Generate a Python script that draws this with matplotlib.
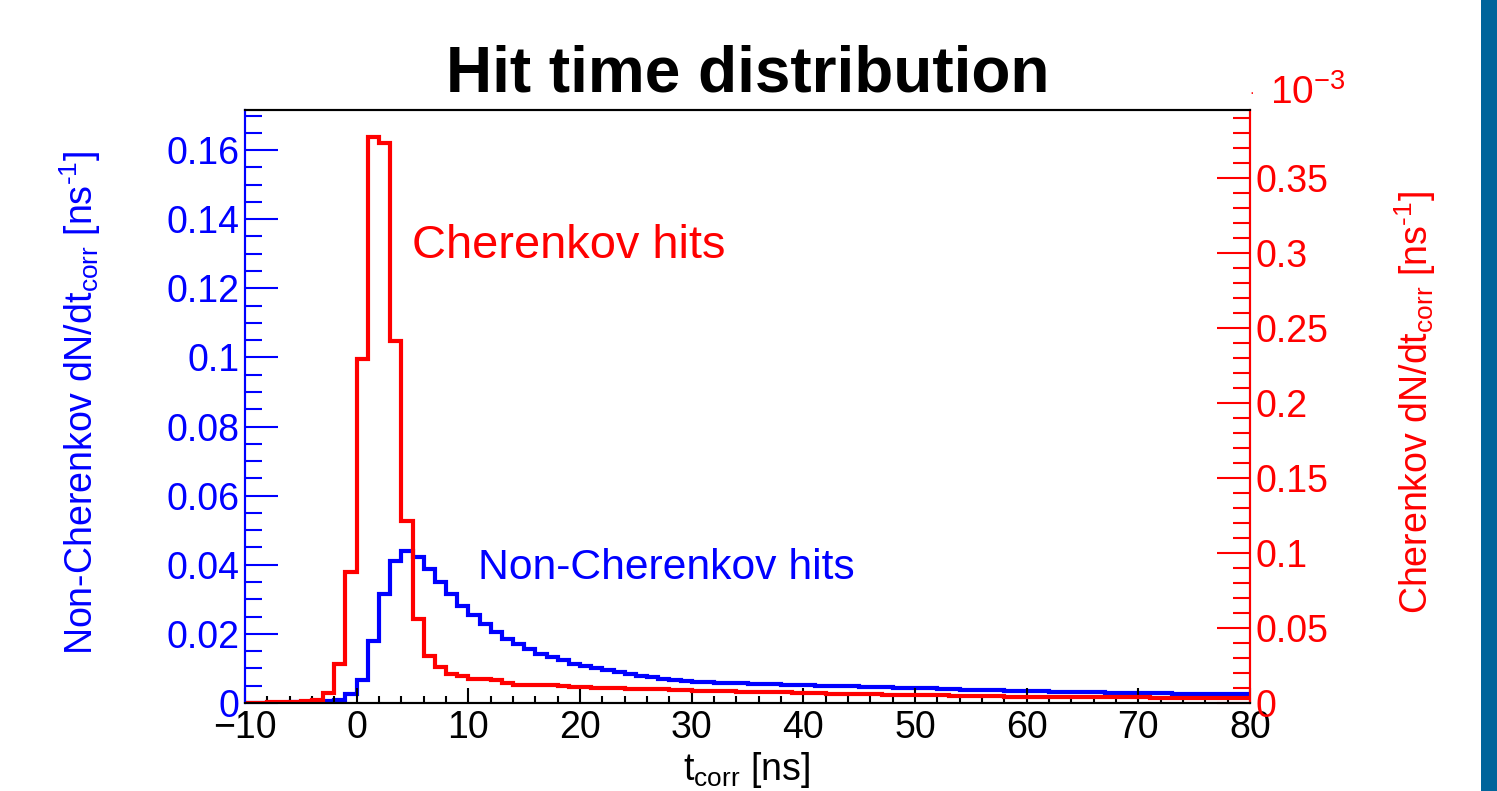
import numpy as np
import matplotlib
matplotlib.use('Agg')
import matplotlib.pyplot as plt
from matplotlib.patches import Rectangle
from matplotlib.ticker import MultipleLocator

plt.rcParams['font.family'] = ['Liberation Sans', 'DejaVu Sans']
plt.rcParams['mathtext.fontset'] = 'custom'
plt.rcParams['mathtext.rm'] = 'Liberation Sans'
plt.rcParams['mathtext.it'] = 'Liberation Sans:italic'
plt.rcParams['mathtext.bf'] = 'Liberation Sans:bold'

# 1 ns bins from -10 to 80
edges = np.arange(-10, 81, 1)

# non-Cherenkov hits, dN/dt [ns^-1] (left axis)
non_cherenkov = [
    0.0001, 0.0001, 0.0001, 0.0001, 0.0002, 0.0002, 0.0003, 0.0005, 0.0010, 0.0025,
    0.0067, 0.0179, 0.0315, 0.0411, 0.0440, 0.0423, 0.0389, 0.0351, 0.0315, 0.0282,
    0.0255, 0.0229, 0.0206, 0.0186, 0.0170, 0.0155, 0.0143, 0.0133, 0.0124, 0.0114,
    0.0107, 0.0100, 0.0095, 0.0089, 0.0083, 0.0078, 0.0074, 0.0070, 0.0067, 0.0064,
    0.0062, 0.0061, 0.0059, 0.0058, 0.0057, 0.0056, 0.0055, 0.0054, 0.0053, 0.0052,
    0.0051, 0.0050, 0.0049, 0.0048, 0.0048, 0.0047, 0.0046, 0.0045, 0.0044, 0.0044,
    0.0043, 0.0042, 0.0041, 0.0040, 0.0039, 0.0038, 0.0037, 0.0037, 0.0036, 0.0035,
    0.0034, 0.0034, 0.0033, 0.0032, 0.0032, 0.0031, 0.0031, 0.0030, 0.0030, 0.0029,
    0.0029, 0.0028, 0.0028, 0.0027, 0.0027, 0.0027, 0.0026, 0.0026, 0.0026, 0.0025,
]

# Cherenkov hits, dN/dt in units of 1e-3 ns^-1 (right axis)
cherenkov_e3 = [
    0.0003, 0.0003, 0.0004, 0.0005, 0.0006, 0.0010, 0.0020, 0.0069, 0.0258, 0.0875,
    0.2290, 0.3775, 0.3730, 0.2415, 0.1210, 0.0560, 0.0315, 0.0242, 0.0193, 0.0180,
    0.0160, 0.0158, 0.0153, 0.0131, 0.0118, 0.0118, 0.0122, 0.0118, 0.0113, 0.0109,
    0.0105, 0.0103, 0.0100, 0.0098, 0.0096, 0.0093, 0.0091, 0.0092, 0.0087, 0.0084,
    0.0082, 0.0080, 0.0081, 0.0077, 0.0076, 0.0074, 0.0073, 0.0071, 0.0070, 0.0067,
    0.0066, 0.0065, 0.0063, 0.0062, 0.0061, 0.0058, 0.0057, 0.0056, 0.0054, 0.0053,
    0.0051, 0.0050, 0.0050, 0.0048, 0.0047, 0.0046, 0.0044, 0.0044, 0.0043, 0.0042,
    0.0041, 0.0041, 0.0040, 0.0040, 0.0039, 0.0039, 0.0038, 0.0038, 0.0037, 0.0037,
    0.0037, 0.0036, 0.0036, 0.0036, 0.0035, 0.0035, 0.0035, 0.0034, 0.0034, 0.0034,
]

W, H = 1497, 791
fig = plt.figure(figsize=(W / 100, H / 100), dpi=100)
fig.patch.set_facecolor('white')

# blue stripe at right edge
fig.patches.append(Rectangle((1481 / W, 0), 16 / W, 1, transform=fig.transFigure,
                             facecolor='#00649b', edgecolor='none'))

left, right, top, bottom = 245, 1250, 110, 703
ax = fig.add_axes([left / W, 1 - bottom / H, (right - left) / W, (bottom - top) / H])
ax2 = ax.twinx()

ax.stairs(non_cherenkov, edges, color='#0000ff', linewidth=3.0, baseline=None)
ax2.stairs(cherenkov_e3, edges, color='#ff0000', linewidth=3.0, baseline=None)

ax.set_xlim(-10, 80)
ax.set_ylim(0, 0.1716)
ax2.set_ylim(0, 0.3953)

for a in (ax, ax2):
    a.spines['top'].set_color('black')
    a.spines['bottom'].set_color('black')
    a.spines['left'].set_color('#0000ff')
    a.spines['right'].set_color('#ff0000')
    for s in a.spines.values():
        s.set_linewidth(1.5)

ax.xaxis.set_major_locator(MultipleLocator(10))
ax.xaxis.set_minor_locator(MultipleLocator(2))
ax.yaxis.set_major_locator(MultipleLocator(0.02))
ax.yaxis.set_minor_locator(MultipleLocator(0.005))
ax2.yaxis.set_major_locator(MultipleLocator(0.05))
ax2.yaxis.set_minor_locator(MultipleLocator(0.01))

ax.tick_params(axis='x', which='major', direction='in', length=11, width=1.5,
               colors='black', labelsize=27, pad=5, top=False)
ax.tick_params(axis='x', which='minor', direction='in', length=5, width=1.5, top=False)
ax.tick_params(axis='y', which='major', direction='in', length=24, width=1.5,
               colors='#0000ff', labelsize=27, pad=4, right=False)
ax.tick_params(axis='y', which='minor', direction='in', length=12, width=1.5,
               colors='#0000ff', right=False)
ax2.tick_params(axis='y', which='major', direction='in', length=24, width=1.5,
                colors='#ff0000', labelsize=27, pad=4)
ax2.tick_params(axis='y', which='minor', direction='in', length=12, width=1.5,
                colors='#ff0000')

ax.xaxis.set_major_formatter(plt.FuncFormatter(lambda v, p: ('%d' % round(v)).replace('-', '\u2212')))
ax.yaxis.set_major_formatter(plt.FuncFormatter(lambda v, p: ('%g' % round(v, 4))))
ax2.yaxis.set_major_formatter(plt.FuncFormatter(lambda v, p: ('%g' % round(v, 4))))

# titles and labels
fig.text(748 / W, 1 - 92 / H, 'Hit time distribution', ha='center', va='baseline',
         fontsize=46, fontweight='bold')
fig.text(747 / W, 1 - 770 / H, r't$_{\rm corr}$ [ns]', ha='center', va='center',
         fontsize=27)
fig.text(80 / W, 1 - 403 / H, r'Non-Cherenkov dN/dt$_{\rm corr}$ [ns$^{\text{-1}}$]',
         rotation=90, ha='center', va='center', fontsize=27, color='#0000ff')
fig.text(1415 / W, 1 - 403 / H, r'Cherenkov dN/dt$_{\rm corr}$ [ns$^{\text{-1}}$]',
         rotation=90, ha='center', va='center', fontsize=27, color='#ff0000')
fig.text(1270 / W, 1 - 104 / H, '10$^{\\mathregular{\u22123}}$',
         ha='left', va='baseline', fontsize=28, color='#ff0000')
fig.text(1252 / W, 1 - 93 / H, '\u00b7', ha='center', va='center',
         fontsize=10, color='#ff0000')

fig.text(412 / W, 1 - 258 / H, 'Cherenkov hits', ha='left', va='baseline',
         fontsize=33.8, color='#ff0000')
fig.text(478 / W, 1 - 579 / H, 'Non-Cherenkov hits', ha='left', va='baseline',
         fontsize=30.7, color='#0000ff')

fig.savefig('out.png', dpi=100)
